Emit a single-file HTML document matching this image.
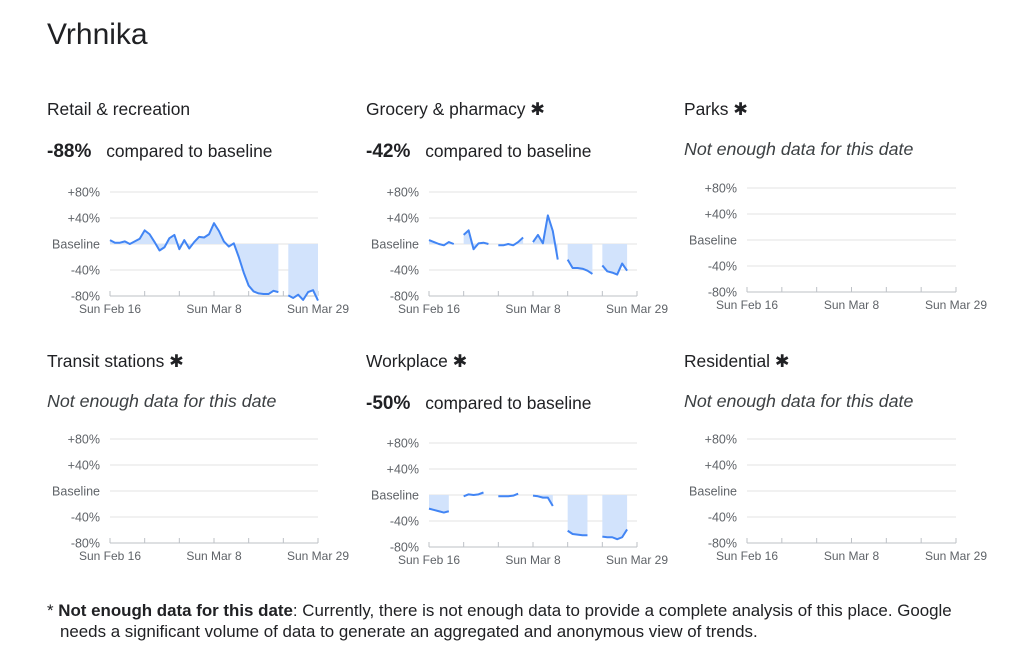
<!DOCTYPE html>
<html><head><meta charset="utf-8">
<style>
html,body{margin:0;padding:0;background:#fff;width:1024px;height:663px;overflow:hidden;font-family:"Liberation Sans",sans-serif;color:#202124}
.abs{position:absolute;white-space:nowrap}
h1{position:absolute;left:47px;top:18px;margin:0;font-size:30px;font-weight:normal}
.t{font-size:17.4px}
.v{font-size:17.4px}
.v b{font-size:19px;margin-right:10px}
.na{font-size:17.8px;font-style:italic;color:#3c4043}
.foot{font-size:16.9px;line-height:21px}
</style></head>
<body>
<h1>Vrhnika</h1>

<div class="abs t" style="left:47px;top:99px">Retail &amp; recreation</div>
<div class="abs v" style="left:47px;top:141px"><b>-88%</b> compared to baseline</div>
<div class="abs t" style="left:366px;top:99px">Grocery &amp; pharmacy ✱</div>
<div class="abs v" style="left:366px;top:141px"><b>-42%</b> compared to baseline</div>
<div class="abs t" style="left:684px;top:99px">Parks ✱</div>
<div class="abs na" style="left:684px;top:139px">Not enough data for this date</div>

<div class="abs t" style="left:47px;top:351px">Transit stations ✱</div>
<div class="abs na" style="left:47px;top:391px">Not enough data for this date</div>
<div class="abs t" style="left:366px;top:351px">Workplace ✱</div>
<div class="abs v" style="left:366px;top:393px"><b>-50%</b> compared to baseline</div>
<div class="abs t" style="left:684px;top:351px">Residential ✱</div>
<div class="abs na" style="left:684px;top:391px">Not enough data for this date</div>

<div class="abs foot" style="left:47px;top:600px">* <b>Not enough data for this date</b>: Currently, there is not enough data to provide a complete analysis of this place. Google<br><span style="margin-left:13px">needs a significant volume of data to generate an aggregated and anonymous view of trends.</span></div>

<svg id="svg" width="1024" height="663" style="position:absolute;left:0;top:0"></svg>

<script>
const yTicks = [80, 40, 0, -40, -80];
const yTickLabels = ["+80%", "+40%", "Baseline", "-40%", "-80%"];
const xTickLabels = ["Sun Feb 16", "Sun Mar 8", "Sun Mar 29"];
const xTickDays = [0, 21, 42];
const N = 43;
const retailValues = [6,2,2,4,0,4,8,21,15,3,-10,-5,9,14,-8,6,-7,3,11,10,15,32,20,4,-4,1,-20,-44,-64,-73,-76,-77,-77,-72,-74,null,-79,-83,-78,-86,-74,-71,-87];
const groceryValues = [6,3,0,-2,3,0,null,14,21,-8,1,2,0,null,-2,-2,0,-2,3,10,null,3,14,1,44,20,-24,null,-24,-37,-37,-38,-41,-46,null,-33,-42,-44,-47,-30,-41,null,null];
const workplaceValues = [-21,-23,-25,-27,-25,null,null,-2,1,0,1,4,null,null,-2,-2,-2,-1,2,null,null,-1,-2,-4,-4,-17,null,null,-55,-60,-61,-62,-62,null,null,-64,-65,-65,-68,-65,-53,null,null];
const emptyValues = [];

const panels = [
  {name:"retail", x0:110, x1:318, top:192, lab:100, data:retailValues},
  {name:"grocery", x0:429, x1:637, top:192, lab:419, data:groceryValues},
  {name:"parks", x0:747, x1:956, top:188, lab:737, data:emptyValues},
  {name:"transit", x0:110, x1:318, top:439, lab:100, data:emptyValues},
  {name:"workplace", x0:429, x1:637, top:443, lab:419, data:workplaceValues},
  {name:"residential", x0:747, x1:956, top:439, lab:737, data:emptyValues}
];
const NS = "http://www.w3.org/2000/svg";
const svg = document.getElementById("svg");
function mk(tag, attrs, parent){ const e=document.createElementNS(NS,tag); for(const k in attrs) e.setAttribute(k,attrs[k]); (parent||svg).appendChild(e); return e; }

panels.forEach(p=>{
  const g = mk("g",{});
  
  
  const xs = d => p.x0 + d*(p.x1-p.x0)/(N-1);
  const ys = v => p.top + (80-v)*104/160;
  yTicks.forEach((t,i)=>{
    const ln = mk("line",{x1:p.x0,x2:p.x1,y1:ys(t),y2:ys(t),stroke:i===4?"#bdc1c6":"#e3e3e3","stroke-width":1},g);
    
    
    const tx = mk("text",{x:p.lab,y:ys(t)+4.5,"text-anchor":"end","font-size":"12.5","fill":"#5f6368","font-family":"Liberation Sans, sans-serif"},g);
    tx.textContent = yTickLabels[i];
    
    
  });
  for(let w=0; w<=6; w++){
    const tk = mk("line",{x1:xs(w*7),x2:xs(w*7),y1:ys(-80),y2:ys(-80)-5,stroke:"#bdc1c6"},g);
    
    
  }
  xTickLabels.forEach((l,i)=>{
    const tx = mk("text",{x:xs(xTickDays[i]),y:ys(-80)+17,"text-anchor":"middle","font-size":"12","fill":"#5f6368","font-family":"Liberation Sans, sans-serif"},g);
    tx.textContent = l;
    
    
  });
  const segs=[]; let cur=[];
  p.data.forEach((v,d)=>{ if(v===null||v===undefined){ if(cur.length) segs.push(cur); cur=[]; } else cur.push([d,v]); });
  if(cur.length) segs.push(cur);
  segs.forEach(s=>{
    let a = "M"+xs(s[0][0])+","+ys(0);
    s.forEach(([d,v])=>{ a+=" L"+xs(d)+","+ys(v); });
    a += " L"+xs(s[s.length-1][0])+","+ys(0)+" Z";
    const ar = mk("path",{d:a,fill:"#d2e3fc",stroke:"none"},g);
    
    
  });
  segs.forEach(s=>{
    const pts = s.map(([d,v])=>xs(d)+","+ys(v)).join(" ");
    const pl = mk("polyline",{points:pts,fill:"none",stroke:"#4285f4","stroke-width":2,"stroke-linejoin":"round"},g);
    
    
  });
});
</script>
</body></html>
